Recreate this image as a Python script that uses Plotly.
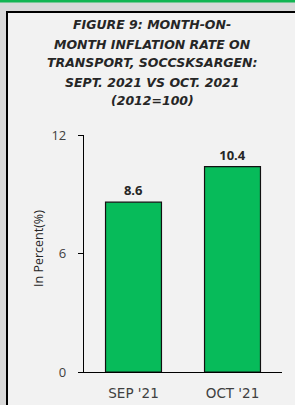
import plotly.graph_objects as go

categories = ["SEP '21", "OCT '21"]
values = [8.6, 10.4]
y_ticks = [0, 6, 12]
title_lines = [
    "FIGURE 9: MONTH-ON-",
    "MONTH INFLATION RATE ON",
    "TRANSPORT, SOCCSKSARGEN:",
    "SEPT. 2021 VS OCT. 2021",
    "(2012=100)",
]
y_title = "In Percent(%)"

W, H = 295, 405
L, R, T, B = 84, 13, 135, 33
pw, ph = W - L - R, H - T - B


def px(x):
    return (x - L) / pw


def py(y):
    return (H - B - y) / ph


fig = go.Figure()
fig.add_trace(go.Bar(
    x=categories, y=values,
    marker=dict(color="#07BB5A", line=dict(color="#111111", width=1.2)),
    text=[f"{v:.1f}" for v in values],
    textposition="outside",
    textfont=dict(family="Open Sans", size=13, color="#262626", weight="bold"),
    cliponaxis=False,
    width=0.565,
))

shapes = [
    dict(type="rect", xref="paper", yref="paper",
         x0=px(7), x1=px(W), y0=py(H), y1=py(12),
         fillcolor="#F2F2F2", line=dict(width=0), layer="below"),
    dict(type="line", xref="paper", yref="paper",
         x0=px(6), x1=px(W), y0=py(12), y1=py(12),
         line=dict(color="#000000", width=2), layer="below"),
    dict(type="line", xref="paper", yref="paper",
         x0=px(7), x1=px(7), y0=py(11), y1=py(H),
         line=dict(color="#000000", width=2), layer="below"),
    dict(type="rect", xref="paper", yref="paper",
         x0=px(0), x1=px(W), y0=py(2.5), y1=py(0),
         fillcolor="#12B552", line=dict(width=0), layer="below"),
]

annotations = []
line_y = [25, 44, 63, 82, 100]
for t, yy in zip(title_lines, line_y):
    annotations.append(dict(
        text=t, xref="paper", yref="paper", x=px(152), y=py(yy),
        xanchor="center", yanchor="middle", showarrow=False,
        font=dict(family="DejaVu Sans", size=12.5, color="#262626",
                  weight="bold", style="italic"),
    ))
annotations.append(dict(
    text=y_title, xref="paper", yref="paper", x=px(38), y=py(249),
    xanchor="center", yanchor="middle", textangle=-90, showarrow=False,
    font=dict(family="Open Sans", size=12.5, color="#262626"),
))

fig.update_layout(
    width=W, height=H,
    margin=dict(l=L, r=R, t=T, b=B, pad=0, autoexpand=False),
    paper_bgcolor="#D9D9D9",
    plot_bgcolor="rgba(0,0,0,0)",
    showlegend=False,
    shapes=shapes,
    annotations=annotations,
    bargap=0.435,
)
fig.update_yaxes(
    range=[0, 12], tickvals=y_ticks, showgrid=False, zeroline=False,
    showline=True, linecolor="#000000", linewidth=1.2, automargin=False,
    ticks="outside", ticklen=5, tickcolor="#000000", tickwidth=1.2,
    ticklabelstandoff=9,
    tickfont=dict(family="Open Sans", size=13, color="#404040"),
)
fig.update_xaxes(
    showgrid=False, zeroline=False, showline=True, linecolor="#000000",
    linewidth=1.2, ticks="", ticklabelstandoff=9, automargin=False,
    tickfont=dict(family="DejaVu Sans", size=13.5, color="#404040"),
)

fig.write_html(
    "out.html",
    config={"displayModeBar": False},
    post_script=(
        "document.body.style.margin='0';document.body.style.overflow='hidden';"
        "document.documentElement.style.overflow='hidden';"
    ),
)
